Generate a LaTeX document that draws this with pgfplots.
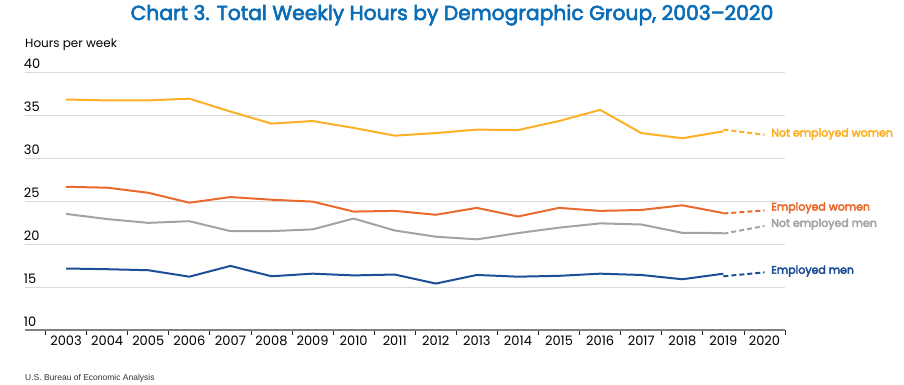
\documentclass[border=0pt]{standalone}
\usepackage{fontspec}
\setmainfont{Poppins}
\newfontfamily\titlefont{Poppins}[FakeBold=3]
\newfontfamily\labfont{Poppins}[FakeBold=4]
\newfontfamily\footfont{Liberation Sans}
\usepackage{pgfplots}
\pgfplotsset{compat=1.18}
\definecolor{cyel}{HTML}{FBB025}
\definecolor{cora}{HTML}{E96A2C}
\definecolor{cgry}{HTML}{A3A3A3}
\definecolor{cblu}{HTML}{1D4F98}
\definecolor{ctitle}{HTML}{0B6DB5}
\definecolor{cgrid}{HTML}{DADADA}
\begin{document}
\begin{tikzpicture}[x=1pt,y=1pt]
\path[use as bounding box] (0,0) rectangle (904,384);
\node[anchor=base, text=ctitle, font=\titlefont\fontsize{20.3}{20.3}\selectfont] at (452,364) {Chart 3. Total Weekly Hours by Demographic Group, 2003–2020};
\node[anchor=base west, inner sep=0pt, font=\fontsize{12}{12}\selectfont] at (25,336.5) {Hours per week};
\node[anchor=base west, inner sep=0pt, font=\footfont\fontsize{8.5}{8.5}\selectfont, text=black!80] at (25,4) {U.S. Bureau of Economic Analysis};
\begin{axis}[
  at={(25pt,54pt)}, anchor=south west,
  scale only axis, width=760pt, height=258pt,
  xmin=-1, xmax=17.5, ymin=10, ymax=40,
  axis x line=bottom, axis y line=left,
  x axis line style={-, draw=black!50, line width=1.3pt},
  y axis line style={draw=none},
  ytick={10,15,...,40},
  ymajorgrids, grid style={cgrid, line width=1pt},
  y tick style={draw=none},
  yticklabel style={anchor=south west, inner sep=0pt, xshift=3pt, yshift=3pt, font=\fontsize{13}{13}\selectfont},
  /pgf/number format/assume math mode=true,
  xtick={0,...,17},
  xticklabels={2003,2004,2005,2006,2007,2008,2009,2010,2011,2012,2013,2014,2015,2016,2017,2018,2019,2020},
  major x tick style={draw=none},
  minor xtick={-0.5,0.5,...,17.5},
  minor x tick style={draw=black!85, line width=0.8pt},
  minor tick length=5pt,
  tick align=outside,
  xticklabel style={font=\fontsize{13}{13}\selectfont, inner sep=1pt},
  clip=false,
]
\addplot[cyel, line width=2pt] coordinates {(0,36.8)(1,36.7)(2,36.7)(3,36.9)(4,35.4)(5,34.0)(6,34.3)(7,33.5)(8,32.6)(9,32.9)(10,33.3)(11,33.25)(12,34.3)(13,35.6)(14,32.9)(15,32.3)(16,33.1)};
\addplot[cyel, line width=2pt, dash pattern=on 5pt off 3pt] coordinates {(16,33.3)(17,32.7)};
\addplot[cora, line width=2pt] coordinates {(0,26.65)(1,26.55)(2,25.96)(3,24.8)(4,25.46)(5,25.15)(6,24.93)(7,23.77)(8,23.85)(9,23.4)(10,24.2)(11,23.2)(12,24.2)(13,23.85)(14,23.96)(15,24.5)(16,23.6)};
\addplot[cora, line width=2pt, dash pattern=on 5pt off 3pt] coordinates {(16,23.55)(17,23.9)};
\addplot[cgry, line width=2pt] coordinates {(0,23.5)(1,22.9)(2,22.46)(3,22.65)(4,21.5)(5,21.5)(6,21.7)(7,22.96)(8,21.57)(9,20.85)(10,20.54)(11,21.27)(12,21.9)(13,22.4)(14,22.27)(15,21.3)(16,21.27)};
\addplot[cgry, line width=2pt, dash pattern=on 5pt off 3pt] coordinates {(16,21.2)(17,22.1)};
\addplot[cblu, line width=2pt] coordinates {(0,17.15)(1,17.07)(2,16.95)(3,16.2)(4,17.45)(5,16.25)(6,16.55)(7,16.35)(8,16.45)(9,15.4)(10,16.4)(11,16.2)(12,16.3)(13,16.55)(14,16.4)(15,15.9)(16,16.55)};
\addplot[cblu, line width=2pt, dash pattern=on 5pt off 3pt] coordinates {(16,16.25)(17,16.7)};
\node[anchor=west, inner sep=0pt, text=cyel, font=\labfont\fontsize{11}{11}\selectfont] at (axis cs:17.16,32.8) {Not employed women};
\node[anchor=west, inner sep=0pt, text=cora, font=\labfont\fontsize{11}{11}\selectfont] at (axis cs:17.16,24.2) {Employed women};
\node[anchor=west, inner sep=0pt, text=cgry, font=\labfont\fontsize{11}{11}\selectfont] at (axis cs:17.16,22.3) {Not employed men};
\node[anchor=west, inner sep=0pt, text=cblu, font=\labfont\fontsize{11}{11}\selectfont] at (axis cs:17.16,16.85) {Employed men};
\end{axis}
\end{tikzpicture}
\end{document}
